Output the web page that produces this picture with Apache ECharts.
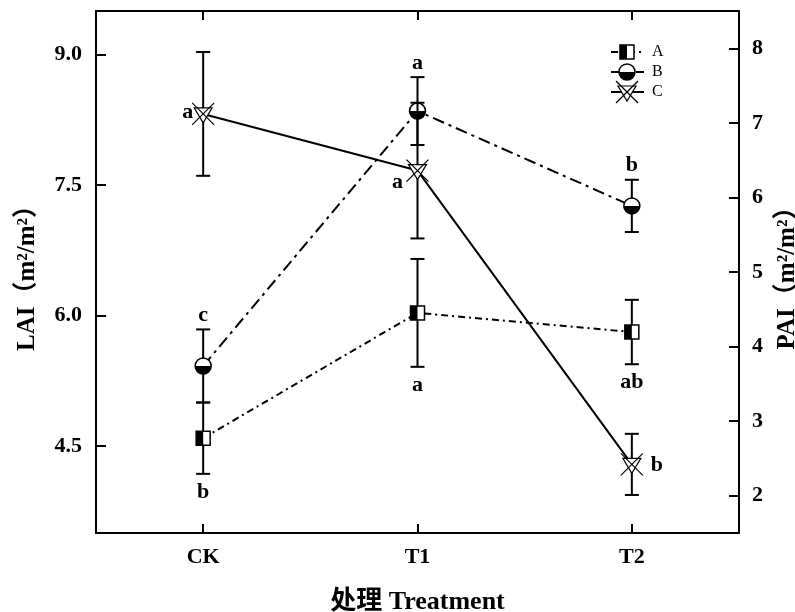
<!DOCTYPE html>
<html>
<head>
<meta charset="utf-8">
<script src="https://cdn.jsdelivr.net/npm/echarts@6/dist/echarts.min.js"></script>
<style>
html, body { margin: 0; padding: 0; background: #fff; }
#chart { width: 795px; height: 612px; }
</style>
</head>
<body>
<div id="chart"></div>
<script>
// data
const categories = ['CK', 'T1', 'T2'];
const laiTicks = [4.5, 6.0, 7.5, 9.0];
const paiTicks = [2, 3, 4, 5, 6, 7, 8];

const valuesA = [4.59, 6.03, 5.81];
const errorsA = [0.41, 0.62, 0.37];
const lettersA = ['b', 'a', 'ab'];

const valuesB = [5.42, 8.35, 7.26];
const errorsB = [0.42, 0.39, 0.30];
const lettersB = ['c', 'a', 'b'];

const valuesC = [7.12, 6.36, 2.42];
const errorsC = [0.83, 0.91, 0.41];
const lettersC = ['a', 'a', 'b'];

// where each letter sits relative to its point
const placeA = ['bottom', 'bottom', 'bottom'];
const placeB = ['top', 'top', 'top'];
const placeC = ['left', 'leftBelow', 'right'];

const serif = '"Liberation Serif", "Noto Sans CJK SC", serif';

// marker drawing, shared by the series and the legend
function markerShapes(kind, cx, cy) {
    if (kind === 'square') {
        return [
            { type: 'rect', shape: { x: cx - 7, y: cy - 7, width: 14, height: 14 }, style: { fill: '#fff', stroke: '#000', lineWidth: 1.5 } },
            { type: 'rect', shape: { x: cx - 7, y: cy - 7, width: 7, height: 14 }, style: { fill: '#000' } }
        ];
    }
    if (kind === 'circle') {
        return [
            { type: 'circle', shape: { cx: cx, cy: cy, r: 8 }, style: { fill: '#fff', stroke: '#000', lineWidth: 1.5 } },
            { type: 'sector', shape: { cx: cx, cy: cy, r0: 0, r: 8, startAngle: 0, endAngle: Math.PI }, style: { fill: '#000' } }
        ];
    }
    return [
        { type: 'polygon', shape: { points: [[cx - 9, cy - 6], [cx + 9, cy - 6], [cx, cy + 9]] }, style: { fill: '#fff', stroke: '#000', lineWidth: 1.2 } },
        { type: 'line', shape: { x1: cx - 11, y1: cy - 11, x2: cx + 11, y2: cy + 11 }, style: { stroke: '#000', lineWidth: 1.2 } },
        { type: 'line', shape: { x1: cx + 11, y1: cy - 11, x2: cx - 11, y2: cy + 11 }, style: { stroke: '#000', lineWidth: 1.2 } }
    ];
}

function letterText(text, place, c, t, b) {
    const style = { text: text, fill: '#000', fontSize: 22, fontWeight: 'bold', fontFamily: serif, align: 'center', verticalAlign: 'middle' };
    if (place === 'top') { style.x = t[0]; style.y = t[1] - 3; style.verticalAlign = 'bottom'; }
    else if (place === 'bottom') { style.x = b[0]; style.y = b[1] + 7; style.verticalAlign = 'top'; }
    else if (place === 'left') { style.x = c[0] - 10; style.y = c[1] - 2; style.align = 'right'; }
    else if (place === 'leftBelow') { style.x = c[0] - 20; style.y = c[1] + 12; }
    else { style.x = c[0] + 19; style.y = c[1] + 1; style.align = 'left'; }
    return { type: 'text', style: style };
}

// error bar + marker + letter for one group
function pointSeries(name, values, errors, letters, places, kind, yAxisIndex) {
    return {
        type: 'custom',
        name: name,
        xAxisIndex: 0,
        yAxisIndex: yAxisIndex,
        z: 5,
        data: values.map((v, i) => [i, v, errors[i]]),
        renderItem(params, api) {
            const i = api.value(0), v = api.value(1), e = api.value(2);
            const c = api.coord([i, v]);
            const t = api.coord([i, v + e]);
            const b = api.coord([i, v - e]);
            const line = { stroke: '#000', lineWidth: 2 };
            return {
                type: 'group',
                children: [
                    { type: 'line', shape: { x1: t[0], y1: t[1], x2: b[0], y2: b[1] }, style: line },
                    { type: 'line', shape: { x1: t[0] - 7, y1: t[1], x2: t[0] + 7, y2: t[1] }, style: line },
                    { type: 'line', shape: { x1: b[0] - 7, y1: b[1], x2: b[0] + 7, y2: b[1] }, style: line }
                ].concat(markerShapes(kind, c[0], c[1]), [letterText(letters[params.dataIndex], places[params.dataIndex], c, t, b)])
            };
        }
    };
}

const dashA = [7, 4, 2, 4];
const dashB = [12, 5, 3, 5];

function legendRow(label, kind, dash, y) {
    return {
        type: 'group',
        children: [
            { type: 'line', shape: { x1: 611, y1: y, x2: 644, y2: y }, style: { stroke: '#000', lineWidth: 1.8, lineDash: dash } }
        ].concat(markerShapes(kind, 627, y), [
            { type: 'text', style: { text: label, x: 652, y: y, fill: '#000', fontSize: 16, fontFamily: serif, verticalAlign: 'middle' } }
        ])
    };
}

const axisLine = { show: true, lineStyle: { color: '#000', width: 2 } };
const labelStyle = { color: '#000', fontSize: 22, fontWeight: 'bold', fontFamily: serif };
const nameStyle = { color: '#000', fontSize: 25, fontWeight: 'bold', fontFamily: serif };

const chart = echarts.init(document.getElementById('chart'));
chart.setOption({
    animation: false,
    backgroundColor: '#fff',
    grid: { left: 96, right: 56, top: 11, bottom: 79, containLabel: false, outerBoundsMode: 'none' },
    xAxis: [
        {
            type: 'category', data: categories, position: 'bottom',
            axisLine: axisLine,
            axisTick: { show: true, inside: true, length: 9, alignWithLabel: true, lineStyle: { color: '#000', width: 2 } },
            axisLabel: Object.assign({ margin: 13 }, labelStyle),
            name: '处理 Treatment', nameLocation: 'middle', nameGap: 56,
            nameTextStyle: Object.assign({}, nameStyle, { fontSize: 26 })
        },
        {
            type: 'category', data: categories, position: 'top',
            axisLine: axisLine,
            axisTick: { show: true, inside: true, length: 9, alignWithLabel: true, lineStyle: { color: '#000', width: 2 } },
            axisLabel: { show: false }
        }
    ],
    yAxis: [
        {
            type: 'value', min: 3.5, max: 9.5, position: 'left',
            splitLine: { show: false },
            axisLine: axisLine,
            axisTick: { show: true, inside: true, length: 10, customValues: laiTicks, lineStyle: { color: '#000', width: 2 } },
            axisLabel: Object.assign({ customValues: laiTicks, margin: 14, formatter: v => v.toFixed(1) }, labelStyle),
            name: 'LAI（m²/m²）', nameLocation: 'middle', nameRotate: 90, nameGap: 56,
            nameTextStyle: nameStyle
        },
        {
            type: 'value', min: 1.5, max: 8.5, position: 'right',
            splitLine: { show: false },
            axisLine: axisLine,
            axisTick: { show: true, inside: true, length: 10, customValues: paiTicks, lineStyle: { color: '#000', width: 2 } },
            axisLabel: Object.assign({ customValues: paiTicks, margin: 13 }, labelStyle),
            name: 'PAI（m²/m²）', nameLocation: 'middle', nameRotate: 90, nameGap: 36,
            nameTextStyle: nameStyle
        }
    ],
    series: [
        { type: 'line', name: 'A', data: valuesA, yAxisIndex: 0, symbol: 'none', z: 2, lineStyle: { color: '#000', width: 2, type: dashA } },
        { type: 'line', name: 'B', data: valuesB, yAxisIndex: 0, symbol: 'none', z: 2, lineStyle: { color: '#000', width: 2, type: dashB } },
        { type: 'line', name: 'C', data: valuesC, yAxisIndex: 1, symbol: 'none', z: 2, lineStyle: { color: '#000', width: 2, type: 'solid' } },
        pointSeries('A', valuesA, errorsA, lettersA, placeA, 'square', 0),
        pointSeries('B', valuesB, errorsB, lettersB, placeB, 'circle', 0),
        pointSeries('C', valuesC, errorsC, lettersC, placeC, 'cross', 1)
    ],
    graphic: [
        legendRow('A', 'square', dashA, 52),
        legendRow('B', 'circle', dashB, 72),
        legendRow('C', 'cross', null, 92)
    ]
});
</script>
</body>
</html>
